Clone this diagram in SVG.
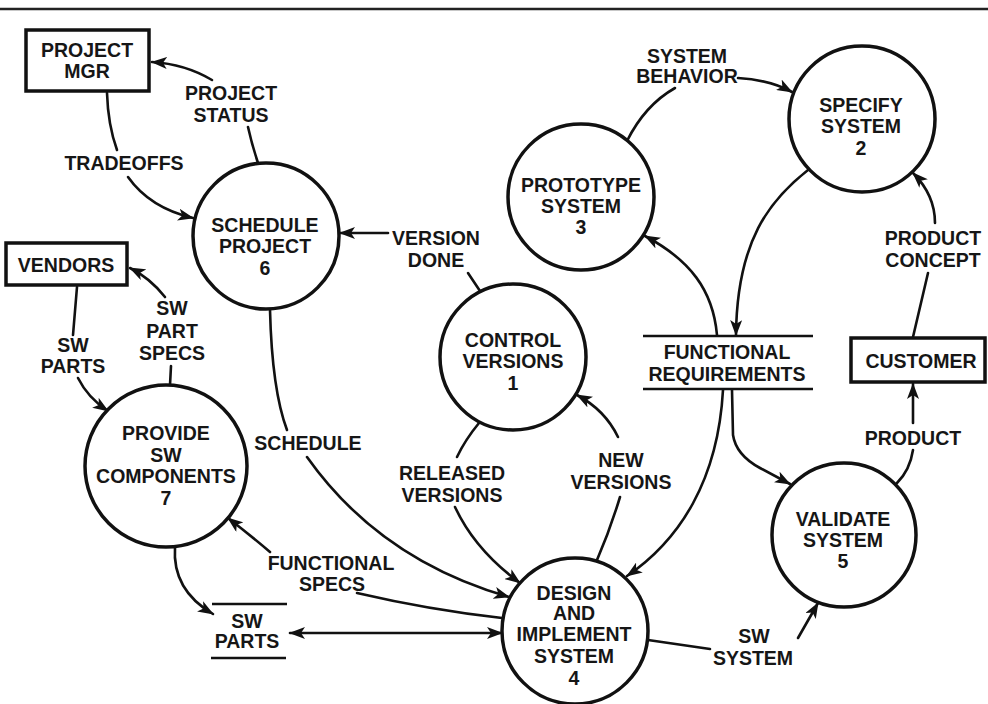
<svg xmlns="http://www.w3.org/2000/svg" width="988" height="704" viewBox="0 0 988 704">
  <defs>
    <marker id="arrow" viewBox="0 0 16 12" refX="15" refY="6" markerWidth="16" markerHeight="12" markerUnits="userSpaceOnUse" orient="auto-start-reverse">
      <path d="M0,0 L16,6 L0,12 L4,6 z" fill="#111"/>
    </marker>
    <style>
      text { font-family: "Liberation Sans", Arial, sans-serif; font-size: 19.5px; font-weight: bold; fill: #161616; text-anchor: middle; }
      .proc { fill: #fff; stroke: #111; stroke-width: 3.5; }
      .ext { fill: #fff; stroke: #111; stroke-width: 3.5; }
      .store { stroke: #111; stroke-width: 2.5; }
      .flow { fill: none; stroke: #111; stroke-width: 2.6; stroke-linecap: round; }
      .arr { marker-end: url(#arrow); }
    </style>
  </defs>
  <rect width="988" height="704" fill="#fff"/>
  <!-- rule across the top of the page -->
  <line x1="0" y1="9" x2="988" y2="9" stroke="#222" stroke-width="2.5"/>

  <!-- data flows -->
  <g id="connectors">
    <!-- PROJECT STATUS -->
    <path class="flow" d="M258,163 Q252,145 248,127"/>
    <path class="flow arr" d="M212,80 Q185,64 152,62"/>
    <!-- TRADEOFFS -->
    <path class="flow" d="M107,93 Q108,125 117,150"/>
    <path class="flow arr" d="M128,177 Q150,208 193,218"/>
    <!-- VERSION DONE -->
    <path class="flow arr" d="M388,233 L340,233"/>
    <path class="flow" d="M468,273 L480,291"/>
    <!-- SW PARTS from vendors -->
    <path class="flow" d="M77,287 Q75,310 73,335"/>
    <path class="flow arr" d="M78,378 Q88,398 108,411"/>
    <!-- SW PART SPECS -->
    <path class="flow" d="M170,385 L171,366"/>
    <path class="flow arr" d="M165,297 Q150,278 130,268"/>
    <!-- SCHEDULE -->
    <path class="flow" d="M270,310 Q272,390 287,430"/>
    <path class="flow arr" d="M307,457 Q380,560 509,597"/>
    <!-- RELEASED VERSIONS -->
    <path class="flow" d="M479,423 Q465,440 457,457"/>
    <path class="flow arr" d="M455,507 Q475,550 520,583"/>
    <!-- NEW VERSIONS -->
    <path class="flow" d="M597,560 Q610,530 620,497"/>
    <path class="flow arr" d="M618,437 Q605,410 577,395"/>
    <!-- FUNCTIONAL SPECS -->
    <path class="flow" d="M502,618 Q430,610 357,593"/>
    <path class="flow arr" d="M270,552 Q250,535 228,518"/>
    <!-- provide components into SW PARTS store -->
    <path class="flow arr" d="M175,547 Q172,590 213,614"/>
    <!-- SW PARTS store to and from design -->
    <path class="flow" d="M290,633 L502,633" marker-start="url(#arrow)" marker-end="url(#arrow)"/>
    <!-- SYSTEM BEHAVIOR -->
    <path class="flow" d="M627,141 Q645,105 675,88"/>
    <path class="flow arr" d="M738,78 Q770,80 792,92"/>
    <!-- specification into FUNCTIONAL REQUIREMENTS -->
    <path class="flow arr" d="M808,170 C770,200 737,240 736,335"/>
    <!-- PRODUCT CONCEPT -->
    <path class="flow" d="M913,337 L928,273"/>
    <path class="flow arr" d="M935,223 Q935,195 913,173"/>
    <!-- requirements to prototype -->
    <path class="flow arr" d="M717,335 C713,290 690,260 645,236"/>
    <!-- requirements to design -->
    <path class="flow arr" d="M723,390 C718,480 680,540 627,576"/>
    <!-- requirements to validation -->
    <path class="flow arr" d="M732,390 L733,435 Q736,455 760,468 L790,484"/>
    <!-- PRODUCT -->
    <path class="flow" d="M897,483 Q910,470 913,450"/>
    <path class="flow arr" d="M913,423 L913,384"/>
    <!-- SW SYSTEM -->
    <path class="flow" d="M648,640 L710,649"/>
    <path class="flow arr" d="M798,638 L818,603"/>
  </g>

  <!-- flow labels -->
  <g id="labels">
    <text x="231" y="100">PROJECT</text>
    <text x="231" y="122">STATUS</text>
    <text x="124" y="170">TRADEOFFS</text>
    <text x="436" y="245">VERSION</text>
    <text x="436" y="267">DONE</text>
    <text x="73" y="352">SW</text>
    <text x="73" y="373">PARTS</text>
    <text x="172" y="315">SW</text>
    <text x="172" y="338">PART</text>
    <text x="172" y="360">SPECS</text>
    <text x="308" y="450">SCHEDULE</text>
    <text x="452" y="480">RELEASED</text>
    <text x="452" y="502">VERSIONS</text>
    <text x="621" y="467">NEW</text>
    <text x="621" y="489">VERSIONS</text>
    <text x="331" y="570">FUNCTIONAL</text>
    <text x="332" y="591">SPECS</text>
    <text x="754" y="643">SW</text>
    <text x="753" y="665">SYSTEM</text>
    <text x="913" y="445">PRODUCT</text>
    <text x="933" y="245">PRODUCT</text>
    <text x="933" y="267">CONCEPT</text>
    <text x="687" y="63">SYSTEM</text>
    <text x="687" y="83">BEHAVIOR</text>
  </g>

  <!-- external entities -->
  <g id="project-mgr">
    <rect class="ext" x="26" y="30" width="123" height="61"/>
    <text x="87" y="57">PROJECT</text>
    <text x="87" y="78">MGR</text>
  </g>
  <g id="vendors">
    <rect class="ext" x="6" y="243" width="121" height="42"/>
    <text x="66" y="272">VENDORS</text>
  </g>
  <g id="customer">
    <rect class="ext" x="851" y="338" width="134" height="44"/>
    <text x="921" y="368">CUSTOMER</text>
  </g>

  <!-- data stores -->
  <g id="functional-requirements">
    <line class="store" x1="643" y1="336" x2="813" y2="336"/>
    <line class="store" x1="643" y1="389" x2="813" y2="389"/>
    <text x="727" y="359">FUNCTIONAL</text>
    <text x="727" y="381">REQUIREMENTS</text>
  </g>
  <g id="sw-parts">
    <line class="store" x1="212" y1="604" x2="287" y2="604"/>
    <line class="store" x1="211" y1="658" x2="286" y2="658"/>
    <text x="247" y="628">SW</text>
    <text x="247" y="648">PARTS</text>
  </g>

  <!-- processes -->
  <g id="p1-control-versions">
    <circle class="proc" cx="513" cy="357" r="73"/>
    <text x="513" y="347">CONTROL</text>
    <text x="513" y="368">VERSIONS</text>
    <text x="513" y="390">1</text>
  </g>
  <g id="p2-specify-system">
    <circle class="proc" cx="862" cy="119" r="73"/>
    <text x="861" y="112">SPECIFY</text>
    <text x="861" y="133">SYSTEM</text>
    <text x="861" y="155">2</text>
  </g>
  <g id="p3-prototype-system">
    <circle class="proc" cx="581" cy="197" r="73"/>
    <text x="581" y="192">PROTOTYPE</text>
    <text x="581" y="213">SYSTEM</text>
    <text x="581" y="234">3</text>
  </g>
  <g id="p4-design-implement">
    <circle class="proc" cx="575" cy="631" r="73"/>
    <text x="574" y="600">DESIGN</text>
    <text x="574" y="620">AND</text>
    <text x="574" y="641">IMPLEMENT</text>
    <text x="574" y="663">SYSTEM</text>
    <text x="574" y="685">4</text>
  </g>
  <g id="p5-validate-system">
    <circle class="proc" cx="844" cy="535" r="72"/>
    <text x="843" y="526">VALIDATE</text>
    <text x="843" y="547">SYSTEM</text>
    <text x="843" y="568">5</text>
  </g>
  <g id="p6-schedule-project">
    <circle class="proc" cx="266" cy="236" r="73"/>
    <text x="265" y="232">SCHEDULE</text>
    <text x="265" y="253">PROJECT</text>
    <text x="265" y="275">6</text>
  </g>
  <g id="p7-provide-components">
    <circle class="proc" cx="166" cy="466" r="81"/>
    <text x="166" y="440">PROVIDE</text>
    <text x="166" y="462">SW</text>
    <text x="166" y="483">COMPONENTS</text>
    <text x="166" y="505">7</text>
  </g>
</svg>
